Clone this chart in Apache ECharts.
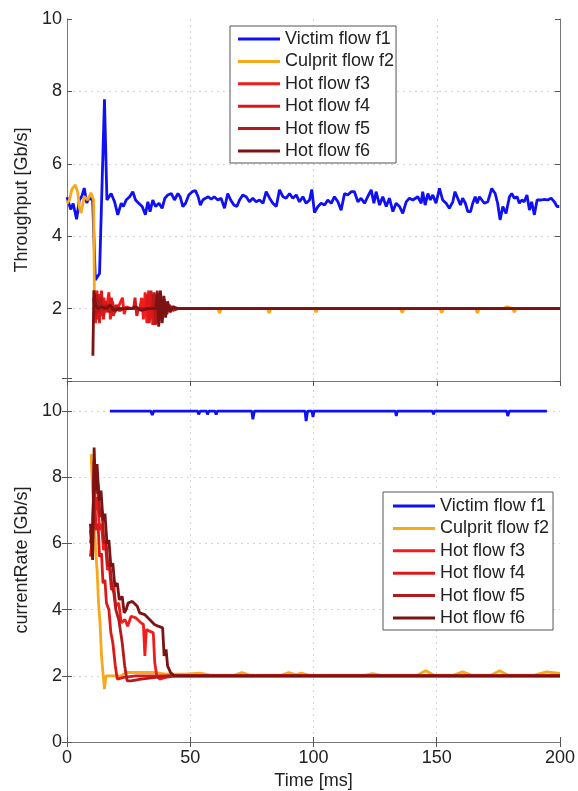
<!DOCTYPE html>
<html>
<head>
<meta charset="utf-8">
<script src="https://cdn.jsdelivr.net/npm/echarts@6/dist/echarts.min.js"></script>
<style>
  html, body { margin: 0; padding: 0; background: #fff; }
  #chart { width: 578px; height: 791px; }
</style>
</head>
<body>
<div id="chart"></div>
<script>
// flow names and colours
const flowNames = ['Victim flow f1', 'Culprit flow f2', 'Hot flow f3', 'Hot flow f4', 'Hot flow f5', 'Hot flow f6'];
const flowColors = ['#1010f4', '#f7a81b', '#f21c1c', '#dc1818', '#b51a1a', '#7d1212'];

const timeTicks = [0, 50, 100, 150, 200];

// --- top panel: throughput [Gb/s] vs time [ms] ---
const victimThroughput = [
  [0, 5.08], [1.5, 4.74], [2.5, 4.9], [3.9, 4.47], [5, 5.0], [6, 5.1], [7, 5.33], [8, 4.92], [9, 5.06], [10.4, 5.0],
  [11.5, 2.79], [13.2, 2.97], [15.2, 7.78], [16.2, 5.0], [17.9, 5.18], [19.3, 4.95], [20.6, 4.59], [22, 4.91], [22.9, 4.82],
  [24, 5.0], [25.4, 5.09], [26.7, 5.23], [27.8, 5.0], [29.1, 4.91], [30.5, 4.82], [31.8, 4.59], [32.8, 4.95], [33.7, 4.68],
  [34.8, 5.0], [35.9, 4.82], [37.3, 4.91], [38.6, 4.77], [39.7, 5.05], [40.9, 5.14], [42.3, 5.18], [43.6, 5.0], [45, 5.18],
  [45.9, 5.09], [47, 4.82], [48.1, 4.91], [49.4, 5.14], [50.8, 5.23], [52.1, 5.26], [53.2, 5.09], [54.1, 4.86], [55.1, 5.0],
  [56.2, 5.05], [57.3, 5.09], [58.5, 5.02], [59.7, 5.09], [61.2, 5.0], [62.5, 5.05], [63.9, 4.77], [65.2, 5.18], [66.4, 5.0],
  [67.7, 4.86], [68.9, 4.82], [70, 5.0], [71.3, 5.14], [72.7, 5.09], [74, 4.95], [75.4, 5.05], [76.7, 4.95], [78.1, 5.0],
  [79.5, 4.91], [80.8, 5.23], [82.2, 5.05], [83.5, 4.91], [84.9, 4.82], [86.2, 5.28], [87.6, 5.09], [88.9, 5.05], [90.3, 5.18],
  [91.6, 5.05], [93, 5.14], [94.3, 4.95], [95.7, 5.09], [97, 4.91], [98.4, 5.0], [99.3, 5.29], [100.4, 4.65], [101.8, 4.82],
  [103.1, 4.91], [104.5, 4.86], [105.8, 5.0], [107.2, 4.91], [108.5, 5.09], [109.9, 4.95], [111.2, 4.72], [112.6, 5.18],
  [113.9, 5.14], [115.3, 5.23], [116.6, 5.23], [118, 4.95], [119.3, 5.05], [120.7, 4.91], [122, 5.09], [123.4, 5.28],
  [124.5, 4.91], [125.4, 5.23], [126.8, 4.86], [128.1, 5.09], [129.5, 4.82], [130.8, 5.05], [132.2, 4.68], [133.5, 4.91],
  [134.9, 4.82], [136.2, 4.63], [137.6, 4.95], [138.9, 5.05], [140.3, 5.0], [141, 4.95], [142.3, 5.09], [143.7, 4.91],
  [144.3, 5.23], [145.3, 4.86], [146.4, 5.18], [147.4, 5.0], [148.4, 5.14], [149.7, 4.91], [151.1, 5.32], [152.4, 5.0],
  [153.8, 4.91], [155.1, 4.77], [156.5, 4.95], [157.4, 5.23], [158.5, 5.05], [159.6, 4.86], [160.5, 5.05], [161.6, 4.91],
  [162.6, 4.68], [163.7, 4.68], [164.6, 4.91], [165.6, 5.09], [166.4, 4.91], [167.3, 5.09], [168.3, 5.0], [169.3, 4.91],
  [170.7, 4.95], [172.3, 5.32], [173.7, 5.18], [174.7, 4.91], [175.7, 4.45], [176.8, 4.82], [178.1, 4.63], [179.5, 5.09],
  [180.4, 5.18], [181.5, 5.05], [182.6, 5.09], [183.5, 4.91], [184.5, 5.0], [185.5, 4.95], [186.6, 5.14], [187.6, 4.72],
  [188.5, 4.95], [189.6, 4.59], [190.7, 5.0], [192.3, 5.0], [193.7, 5.02], [195, 5.0], [196.4, 5.05], [197.7, 4.95],
  [198.8, 4.82], [199.7, 4.82]
];
const culpritThroughput = [
  [0, 4.9], [1, 5.0], [2, 5.3], [3.4, 5.42], [4.4, 5.2], [5, 4.8], [5.7, 4.64], [7, 5.1], [8.4, 5.0], [9.7, 5.2], [10.8, 5.0],
  [11.1, 2.5], [11.8, 2.0], [61.2, 2.0], [61.9, 1.88], [62.6, 2.0], [81.3, 2.0], [82, 1.88], [82.7, 2.0], [100.3, 2.0],
  [101, 1.9], [101.7, 2.0], [135.3, 2.0], [136, 1.89], [136.7, 2.0], [151.3, 2.0], [152, 1.89], [152.7, 2.0], [165.8, 2.0],
  [166.5, 1.88], [167.2, 2.0], [177, 2.0], [178.5, 2.05], [180.8, 2.0], [181.5, 1.9], [182.2, 2.0], [200, 2.0]
];
const hot3Throughput = [
  [11, 2.4], [11.6, 1.6], [12.2, 2.5], [12.8, 1.7], [13.4, 2.4], [14.2, 1.8], [15, 2.3], [15.8, 1.9], [17, 2.45], [17.6, 1.7],
  [18.4, 2.2], [19.4, 1.9], [20.5, 2.0], [22.5, 2.3], [23.2, 1.85], [24, 2.05], [26, 2.0], [29.5, 2.0], [30.3, 2.3], [31, 1.7],
  [31.7, 2.45], [32.4, 1.6], [33.1, 2.5], [33.8, 1.7], [34.5, 2.3], [35.5, 1.9], [37, 2.2], [38, 1.8], [39, 2.15], [40.5, 1.95],
  [42, 2.05], [44, 2.0], [200, 2.0]
];
const hot4Throughput = [
  [11, 2.5], [11.8, 1.7], [12.5, 2.4], [13.2, 1.6], [14, 2.5], [14.8, 1.7], [15.6, 2.2], [16.6, 1.9], [18, 2.3], [18.8, 1.8],
  [20, 2.1], [21.5, 1.95], [23, 2.0], [27, 2.0], [27.6, 2.3], [28.3, 1.8], [29, 2.0], [32, 2.0], [32.7, 2.4], [33.4, 1.6],
  [34.1, 2.5], [34.8, 1.55], [35.5, 2.4], [36.2, 1.7], [37, 2.3], [38, 1.8], [39.5, 2.1], [41, 1.95], [43, 2.05], [45, 2.0],
  [200, 2.0]
];
const hot5Throughput = [
  [10.8, 2.3], [11.4, 1.8], [12, 2.4], [12.8, 1.9], [13.6, 2.3], [14.6, 1.95], [16, 2.1], [17.4, 1.9], [19, 2.05], [21, 1.95],
  [22.8, 2.0], [26, 2.0], [34.5, 2.0], [35.2, 2.45], [35.9, 1.55], [36.6, 2.5], [37.3, 1.6], [38, 2.4], [38.7, 1.7], [39.5, 2.25],
  [40.5, 1.85], [41.5, 2.1], [43, 1.95], [45, 2.0], [200, 2.0]
];
const hot6Throughput = [
  [10.5, 0.7], [10.9, 2.5], [11.6, 2.1], [12.5, 2.0], [14, 2.05], [16, 2.0], [17.5, 2.1], [19, 1.95], [21, 2.0], [26, 2.0],
  [28, 2.05], [30, 1.95], [33, 2.0], [36, 2.0], [36.6, 2.45], [37.2, 1.5], [37.9, 2.5], [38.6, 1.6], [39.3, 2.35], [40, 1.75],
  [40.8, 2.2], [41.8, 1.9], [43, 2.05], [44.5, 2.0], [200, 2.0]
];

// --- bottom panel: currentRate [Gb/s] vs time [ms] ---
const victimRate = [
  [17.4, 10], [34, 10], [34.6, 9.88], [35.2, 10], [53, 10], [53.4, 9.9], [54, 10], [56.6, 10], [57, 9.9], [57.5, 10],
  [60, 10], [60.5, 9.9], [61, 10], [75, 10], [75.4, 9.75], [76, 10], [96.6, 10], [97, 9.7], [97.6, 10], [99.4, 10],
  [99.8, 9.82], [100.2, 10], [133.2, 10], [133.6, 9.85], [134, 10], [148.3, 10], [148.7, 9.9], [149.1, 10], [178.4, 10],
  [178.8, 9.85], [179.4, 10], [194.7, 10]
];
const culpritRate = [
  [9.8, 8.7], [10.4, 7.6], [11, 7.0], [11.6, 5.8], [12.2, 5.2], [12.8, 4.2], [13.4, 3.6], [14, 2.6], [14.6, 2.1], [15.2, 1.6],
  [15.8, 2.0], [22, 2.0], [24, 2.1], [36, 2.1], [40, 2.05], [48, 2.05], [54, 2.08], [58, 2.02], [68, 2.02], [71, 2.1],
  [74, 2.02], [87, 2.02], [90, 2.1], [93, 2.03], [95, 2.08], [98, 2.02], [121, 2.02], [124, 2.07], [127, 2.02], [142, 2.02],
  [145.5, 2.15], [149, 2.02], [157, 2.02], [160.5, 2.12], [164, 2.02], [172, 2.02], [175.5, 2.15], [179, 2.02], [190, 2.03],
  [194.5, 2.12], [200, 2.07]
];
const hot3Rate = [
  [9.5, 6.0], [10.4, 6.6], [11, 8.2], [11.6, 7.0], [12.4, 7.4], [13.2, 6.4], [14, 6.6], [14.8, 5.8], [15.6, 6.0], [16.4, 5.2],
  [17.2, 5.3], [18, 4.6], [19, 4.7], [19.8, 4.1], [21, 4.2], [22, 3.6], [23.5, 3.7], [24.6, 3.5], [26, 3.8], [28, 3.75],
  [30, 3.6], [31, 3.55], [31.6, 2.6], [32.2, 3.4], [33.5, 3.35], [35, 3.3], [35.6, 2.4], [36.4, 2.0], [37.6, 1.9], [40, 1.95],
  [44, 2.0], [200, 2.0]
];
const hot4Rate = [
  [9.5, 5.6], [10.4, 6.2], [11, 7.8], [11.8, 6.4], [12.6, 6.6], [13.2, 5.6], [14, 5.7], [14.6, 4.8], [15.4, 4.9], [16, 4.2],
  [17, 4.0], [17.8, 3.3], [18.6, 3.0], [19.6, 2.3], [20.4, 1.9], [21.2, 1.85], [23, 1.95], [28, 2.0], [200, 2.0]
];
const hot5Rate = [
  [9.5, 6.4], [10.4, 5.9], [11, 8.5], [11.8, 7.5], [12.6, 7.8], [13.4, 6.8], [14.2, 7.0], [15, 6.0], [15.8, 6.1], [16.6, 5.3],
  [17.4, 5.4], [18.2, 4.7], [19, 4.5], [19.8, 4.0], [21, 3.7], [22.4, 3.0], [23.4, 2.3], [24.4, 1.85], [26, 1.85], [30, 1.9],
  [36, 1.95], [42, 2.0], [200, 2.0]
];
const hot6Rate = [
  [9.5, 6.6], [10.4, 5.5], [11, 8.9], [11.6, 7.6], [12.2, 8.4], [13, 7.3], [13.8, 7.6], [14.6, 6.7], [15.4, 6.9], [16.2, 6.0],
  [17, 6.1], [17.8, 5.3], [18.6, 5.4], [19.4, 4.7], [20.4, 4.8], [21.2, 4.3], [22.4, 4.4], [23.2, 3.9], [24, 4.0], [24.8, 4.2],
  [26.5, 4.25], [28.5, 4.1], [29.5, 3.9], [31.5, 3.85], [33.5, 3.7], [35.5, 3.55], [37, 3.5], [38.8, 3.45], [39.4, 2.6],
  [40.2, 2.8], [40.8, 2.3], [42, 2.1], [43.5, 2.0], [200, 2.0]
];

const topData = [victimThroughput, culpritThroughput, hot3Throughput, hot4Throughput, hot5Throughput, hot6Throughput];
const bottomData = [victimRate, culpritRate, hot3Rate, hot4Rate, hot5Rate, hot6Rate];

const font = "'Liberation Sans', Arial, sans-serif";
const axisColor = '#777';
const tickStyle = { show: true, inside: true, length: 5, lineStyle: { color: '#555' } };
const dotted = { show: true, showMinLine: false, showMaxLine: false, lineStyle: { type: [2, 4], color: '#d4d4d4' } };
const labelStyle = { color: '#222', fontSize: 18, fontFamily: font };

function xAxisFor(grid, position, withLabels, split) {
  return {
    type: 'value', gridIndex: grid, position: position,
    min: timeTicks[0], max: timeTicks[timeTicks.length - 1], interval: 50,
    axisLine: { show: true, lineStyle: { color: axisColor } },
    axisTick: tickStyle,
    axisLabel: withLabels ? Object.assign({ margin: 7 }, labelStyle) : { show: false },
    splitLine: split ? dotted : { show: false },
    name: withLabels ? 'Time [ms]' : '',
    nameLocation: 'middle', nameGap: 30,
    nameTextStyle: labelStyle
  };
}

function yAxisFor(grid, position, max, name) {
  const left = position === 'left';
  return {
    type: 'value', gridIndex: grid, position: position,
    min: 0, max: max, interval: 2,
    axisLine: { show: true, lineStyle: { color: axisColor } },
    axisTick: tickStyle,
    axisLabel: left ? Object.assign({
      margin: 5,
      formatter: v => (v > 0 || grid === 1) && v % 2 === 0 ? String(v) : ''
    }, labelStyle) : { show: false },
    splitLine: left ? dotted : { show: false },
    name: left ? name : '',
    nameLocation: 'middle', nameGap: 32,
    nameTextStyle: labelStyle
  };
}

function makeSeries(data, xi, yi) {
  return data.map((d, i) => ({
    name: flowNames[i], type: 'line', data: d,
    xAxisIndex: xi, yAxisIndex: yi,
    showSymbol: false, symbol: 'none',
    lineStyle: { color: flowColors[i], width: 2.8 },
    itemStyle: { color: flowColors[i] },
    z: 2 + i
  }));
}

const legendBase = {
  orient: 'vertical', icon: 'rect', itemWidth: 42, itemHeight: 3, itemGap: 2.4,
  borderColor: '#555', borderWidth: 1, backgroundColor: '#fff',
  textStyle: { color: '#222', fontSize: 18, fontFamily: font, lineHeight: 20 },
  data: flowNames, selectedMode: false
};

const chart = echarts.init(document.getElementById('chart'));
chart.setOption({
  animation: false,
  backgroundColor: '#fff',
  grid: [
    { left: 67, right: 18, top: 19, height: 362 },
    { left: 67, right: 18, top: 378, bottom: 48 }
  ],
  xAxis: [
    xAxisFor(0, 'top', false, true),
    xAxisFor(1, 'bottom', true, true),
    xAxisFor(1, 'top', false, false)
  ],
  yAxis: [
    yAxisFor(0, 'left', 10, 'Throughput [Gb/s]'),
    yAxisFor(0, 'right', 10, ''),
    yAxisFor(1, 'left', 11, 'currentRate [Gb/s]'),
    yAxisFor(1, 'right', 11, '')
  ],
  legend: [
    Object.assign({ left: 230, top: 26, padding: [3, 2, 2, 8] }, legendBase),
    Object.assign({ left: 383, top: 492, padding: [4, 4, 2, 10] }, legendBase)
  ],
  series: makeSeries(topData, 0, 0).concat(makeSeries(bottomData, 1, 2))
});
</script>
</body>
</html>
